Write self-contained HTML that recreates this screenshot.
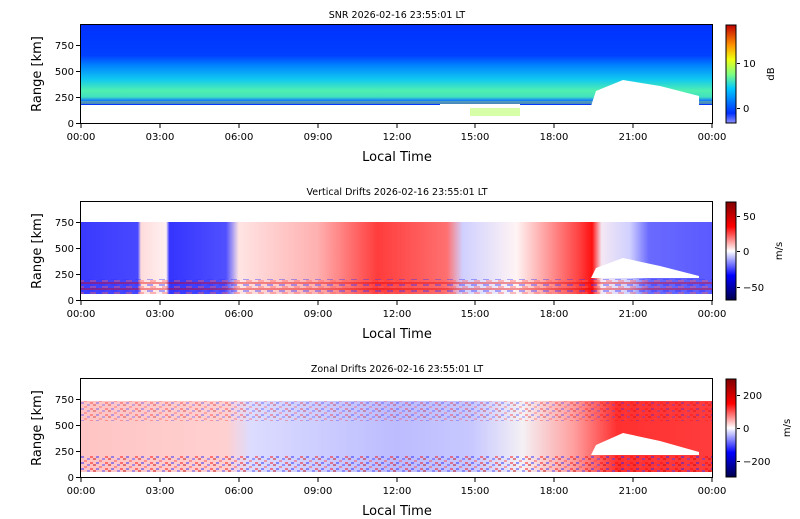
<!DOCTYPE html>
<html><head><meta charset="utf-8"><style>
body{margin:0;background:#fff;width:800px;height:519px;overflow:hidden}
svg{position:absolute;left:0;top:0;font-family:"DejaVu Sans","Liberation Sans",sans-serif}
</style></head><body>
<svg width="800" height="519" viewBox="0 0 800 519" xmlns="http://www.w3.org/2000/svg">
<defs>
<linearGradient id="snrv" x1="0" y1="0" x2="0" y2="1">
 <stop offset="0" stop-color="#0030ff"/><stop offset="0.38" stop-color="#0040ff"/>
 <stop offset="0.5" stop-color="#0080ff"/><stop offset="0.68" stop-color="#10c8f0"/>
 <stop offset="0.82" stop-color="#50f0b0"/><stop offset="0.9" stop-color="#40e0c0"/><stop offset="0.95" stop-color="#1070ff"/><stop offset="1" stop-color="#0030ff"/>
</linearGradient>
<linearGradient id="vd" x1="0" y1="0" x2="1" y2="0">
 <stop offset="0" stop-color="#3a3aff"/><stop offset="0.09" stop-color="#4848ff"/>
 <stop offset="0.095" stop-color="#ffdcdc"/><stop offset="0.135" stop-color="#fff0f0"/>
 <stop offset="0.14" stop-color="#3434ff"/><stop offset="0.23" stop-color="#5050ff"/>
 <stop offset="0.25" stop-color="#ffe4e4"/><stop offset="0.375" stop-color="#ffb0b0"/>
 <stop offset="0.47" stop-color="#ff3c3c"/><stop offset="0.58" stop-color="#ff7070"/>
 <stop offset="0.605" stop-color="#d0d0ff"/><stop offset="0.69" stop-color="#fff4f4"/>
 <stop offset="0.79" stop-color="#ff4040"/><stop offset="0.81" stop-color="#ff1010"/>
 <stop offset="0.825" stop-color="#f4e8f4"/><stop offset="0.87" stop-color="#d0d0ff"/>
 <stop offset="0.9" stop-color="#6a6aff"/><stop offset="1" stop-color="#5a5aff"/>
</linearGradient>
<linearGradient id="zd" x1="0" y1="0" x2="1" y2="0">
 <stop offset="0" stop-color="#ffc4c4"/><stop offset="0.23" stop-color="#ffd0d0"/>
 <stop offset="0.27" stop-color="#dcdcff"/><stop offset="0.5" stop-color="#bcbcff"/>
 <stop offset="0.62" stop-color="#c8c8ff"/><stop offset="0.7" stop-color="#f4f0f4"/>
 <stop offset="0.78" stop-color="#ffa0a0"/><stop offset="0.85" stop-color="#ff3030"/><stop offset="1" stop-color="#ff3c3c"/>
</linearGradient>
<pattern id="nz" width="15" height="6" patternUnits="userSpaceOnUse">
 <rect x="0" y="0" width="3" height="2" fill="#ff0000"/><rect x="6" y="0" width="3" height="2" fill="#2020ff"/>
 <rect x="3" y="2" width="3" height="2" fill="#c00000"/><rect x="12" y="2" width="3" height="2" fill="#4040ff"/>
 <rect x="9" y="4" width="3" height="2" fill="#ff4040"/>
</pattern>
<pattern id="nv" width="12" height="6" patternUnits="userSpaceOnUse">
 <rect x="0" y="0" width="12" height="2" fill="#e00000"/><rect x="3" y="2" width="6" height="2" fill="#3030ff"/>
 <rect x="6" y="4" width="6" height="2" fill="#ff6060"/>
</pattern>
<linearGradient id="cbj" x1="0" y1="1" x2="0" y2="0">
 <stop offset="0" stop-color="#9090ff"/><stop offset="0.1" stop-color="#0030ff"/><stop offset="0.35" stop-color="#00c8ff"/>
 <stop offset="0.5" stop-color="#80ff80"/><stop offset="0.65" stop-color="#f0ff10"/><stop offset="0.8" stop-color="#ff9000"/><stop offset="1" stop-color="#c00000"/>
</linearGradient>
<linearGradient id="cbs" x1="0" y1="1" x2="0" y2="0">
 <stop offset="0" stop-color="#00004c"/><stop offset="0.25" stop-color="#0000ff"/><stop offset="0.5" stop-color="#ffffff"/>
 <stop offset="0.75" stop-color="#ff0000"/><stop offset="1" stop-color="#800000"/>
</linearGradient>
</defs>

<!-- SNR panel -->
<rect x="81" y="25" width="631" height="80" fill="url(#snrv)"/>
<rect x="81" y="101" width="631" height="3" fill="#c8ff40" opacity="0.35"/>
<rect x="440" y="104" width="80" height="12" fill="#ffffff"/>
<rect x="470" y="108" width="50" height="8" fill="#b0ff50" opacity="0.5"/>
<polygon points="591,106 596,91 623,80 660,86 699,96 699,106" fill="#ffffff"/>
<!-- Vertical panel -->
<rect x="81" y="222" width="631" height="72" fill="url(#vd)"/>
<rect x="81" y="279" width="631" height="15" fill="url(#nv)" opacity="0.4"/>
<polygon points="591,278 596,268 623,258 660,266 699,276 699,278" fill="#ffffff"/>
<!-- Zonal panel -->
<rect x="81" y="401" width="631" height="71" fill="url(#zd)"/>
<rect x="81" y="401" width="631" height="20" fill="url(#nz)" opacity="0.3"/>
<rect x="81" y="456" width="631" height="16" fill="url(#nz)" opacity="0.45"/>
<polygon points="591,455 596,445 623,433 660,441 699,452 699,455" fill="#ffffff"/>

<g fill="none" stroke="#000" stroke-width="1">
<rect x="80.5" y="24.5" width="632" height="99"/>
<rect x="80.5" y="201.5" width="632" height="99"/>
<rect x="80.5" y="378.5" width="632" height="99"/>
</g>
<rect x="726" y="25" width="10" height="98" fill="url(#cbj)" stroke="#000"/>
<rect x="726" y="202" width="10" height="98" fill="url(#cbs)" stroke="#000"/>
<rect x="726" y="379" width="10" height="98" fill="url(#cbs)" stroke="#000"/>

<g stroke="#000" stroke-width="1">
<path d="M81,124v4M160,124v4M239,124v4M318,124v4M397,124v4M475,124v4M554,124v4M633,124v4M712,124v4"/>
<path d="M81,301v4M160,301v4M239,301v4M318,301v4M397,301v4M475,301v4M554,301v4M633,301v4M712,301v4"/>
<path d="M81,478v4M160,478v4M239,478v4M318,478v4M397,478v4M475,478v4M554,478v4M633,478v4M712,478v4"/>
<path d="M76,123.5h4M76,97.5h4M76,71.5h4M76,45.5h4"/>
<path d="M76,300.5h4M76,274.5h4M76,248.5h4M76,222.5h4"/>
<path d="M76,477.5h4M76,451.5h4M76,425.5h4M76,399.5h4"/>
<path d="M737,108.5h3M737,63.5h3"/>
<path d="M737,287.5h3M737,251.5h3M737,216.5h3"/>
<path d="M737,461.5h3M737,428.5h3M737,395.5h3"/>
</g>

<g font-size="10" fill="#000" text-anchor="middle">
<g>
<text x="81" y="140">00:00</text><text x="160" y="140">03:00</text><text x="239" y="140">06:00</text><text x="318" y="140">09:00</text><text x="397" y="140">12:00</text><text x="475" y="140">15:00</text><text x="554" y="140">18:00</text><text x="633" y="140">21:00</text><text x="712" y="140">00:00</text>
</g>
<g transform="translate(0,177)"><text x="81" y="140">00:00</text><text x="160" y="140">03:00</text><text x="239" y="140">06:00</text><text x="318" y="140">09:00</text><text x="397" y="140">12:00</text><text x="475" y="140">15:00</text><text x="554" y="140">18:00</text><text x="633" y="140">21:00</text><text x="712" y="140">00:00</text></g>
<g transform="translate(0,354)"><text x="81" y="140">00:00</text><text x="160" y="140">03:00</text><text x="239" y="140">06:00</text><text x="318" y="140">09:00</text><text x="397" y="140">12:00</text><text x="475" y="140">15:00</text><text x="554" y="140">18:00</text><text x="633" y="140">21:00</text><text x="712" y="140">00:00</text></g>
</g>
<g font-size="10" fill="#000" text-anchor="end">
<text x="74" y="127">0</text><text x="74" y="101">250</text><text x="74" y="75">500</text><text x="74" y="49">750</text>
<text x="74" y="304">0</text><text x="74" y="278">250</text><text x="74" y="252">500</text><text x="74" y="226">750</text>
<text x="74" y="481">0</text><text x="74" y="455">250</text><text x="74" y="429">500</text><text x="74" y="403">750</text>
</g>
<g font-size="10" fill="#000">
<text x="743" y="112">0</text><text x="743" y="67">10</text>
<text x="743" y="291">−50</text><text x="743" y="255">0</text><text x="743" y="220">50</text>
<text x="743" y="465">−200</text><text x="743" y="432">0</text><text x="743" y="399">200</text>
<text transform="translate(774,74) rotate(-90)" text-anchor="middle">dB</text>
<text transform="translate(782,251) rotate(-90)" text-anchor="middle">m/s</text>
<text transform="translate(790,428) rotate(-90)" text-anchor="middle">m/s</text>
</g>
<g font-size="9.5" fill="#000" text-anchor="middle">
<text x="397" y="18">SNR 2026-02-16 23:55:01 LT</text>
<text x="397" y="195">Vertical Drifts 2026-02-16 23:55:01 LT</text>
<text x="397" y="372">Zonal Drifts 2026-02-16 23:55:01 LT</text>
</g>
<g font-size="13" fill="#000" text-anchor="middle">
<text x="397" y="161">Local Time</text><text x="397" y="338">Local Time</text><text x="397" y="515">Local Time</text>
<text transform="translate(41,74) rotate(-90)">Range [km]</text>
<text transform="translate(41,251) rotate(-90)">Range [km]</text>
<text transform="translate(41,428) rotate(-90)">Range [km]</text>
</g>
</svg>
</body></html>
